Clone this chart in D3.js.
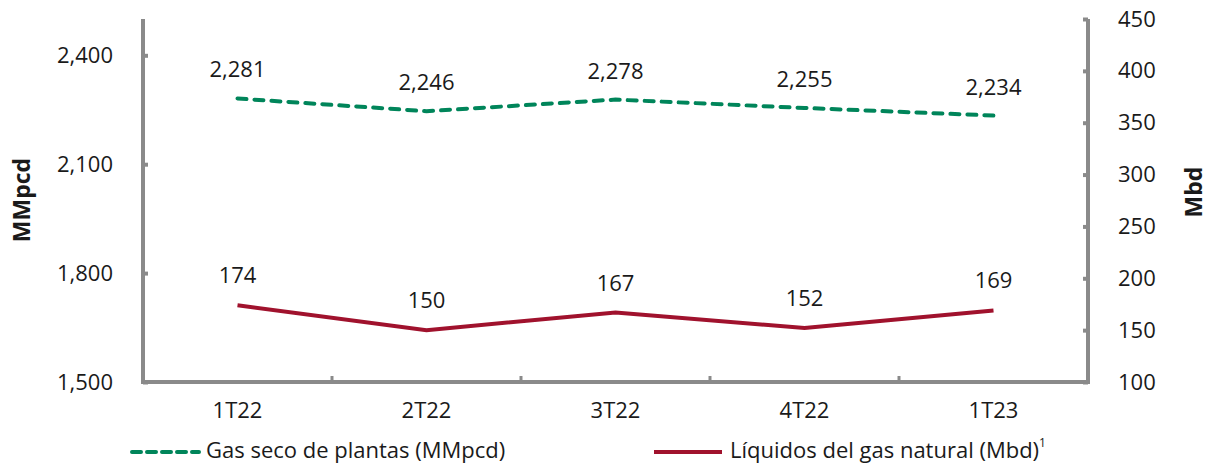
<!DOCTYPE html>
<html><head><meta charset="utf-8">
<script src="https://cdn.jsdelivr.net/npm/d3@7/dist/d3.min.js"></script>
<style>
body{margin:0;background:#fff;}
text{font-family:"Open Sans",sans-serif;fill:#1a1a1a;}
</style></head>
<body><svg id="c" width="1209" height="465"></svg>
<script>
const categories = ["1T22","2T22","3T22","4T22","1T23"];
const gasSeco = [2281, 2246, 2278, 2255, 2234];
const liquidos = [174, 150, 167, 152, 169];
const leftTicks = [1500, 1800, 2100, 2400];
const rightTicks = [100,150,200,250,300,350,400,450];
const seriesNames = ["Gas seco de plantas (MMpcd)", "Líquidos del gas natural (Mbd)"];

const svg = d3.select("#c");
const L = 143, R = 1088, T = 19, B = 382;
const gray = "#8a8a8a", green = "#00855A", red = "#A0122D";
const FONT = '"Open Sans",sans-serif';
const FS = "22px";

const x = d3.scaleBand().domain(categories).range([L, R]);
const yL = d3.scaleLinear().domain([1500, 2500]).range([B, T]);
const yR = d3.scaleLinear().domain([100, 450]).range([B, T]);

const gL = svg.append("g").attr("transform", `translate(${L},0)`)
  .call(d3.axisLeft(yL).tickValues(leftTicks).tickSize(-5).tickPadding(30).tickFormat(d3.format(",")));
const gR = svg.append("g").attr("transform", `translate(${R},0)`)
  .call(d3.axisRight(yR).tickValues(rightTicks).tickSize(-5).tickPadding(30).tickFormat(d3.format("d")));
const gB = svg.append("g").attr("transform", `translate(0,${B})`)
  .call(d3.axisBottom(x).tickSize(0).tickPadding(20));
[gL, gR, gB].forEach(g => {
  g.select(".domain").remove();
  g.selectAll("line").attr("stroke", gray).attr("stroke-width", 4);
  g.selectAll("text").style("font-size", FS).attr("fill", "#1a1a1a").style("font-family", FONT);
});
gL.selectAll("text").attr("text-anchor", "end");
gR.selectAll("text").attr("text-anchor", "start");

svg.append("line").attr("x1", L).attr("x2", L).attr("y1", T).attr("y2", B + 2).attr("stroke", gray).attr("stroke-width", 4);
svg.append("line").attr("x1", R).attr("x2", R).attr("y1", T).attr("y2", B + 2).attr("stroke", gray).attr("stroke-width", 4);
svg.append("line").attr("x1", L - 2).attr("x2", R + 2).attr("y1", B).attr("y2", B).attr("stroke", gray).attr("stroke-width", 4);
svg.append("g").selectAll("line").data(categories.slice(1)).join("line")
  .attr("x1", d => x(d)).attr("x2", d => x(d)).attr("y1", B).attr("y2", B - 6)
  .attr("stroke", gray).attr("stroke-width", 3);

const cx = d => x(d) + x.bandwidth() / 2;

const lineL = d3.line().x((d, i) => cx(categories[i])).y(d => yL(d));
const lineR = d3.line().x((d, i) => cx(categories[i])).y(d => yR(d));
svg.append("path").attr("d", lineL(gasSeco)).attr("fill", "none").attr("stroke", green)
  .attr("stroke-width", 4).attr("stroke-dasharray", "9,8").attr("stroke-linecap", "round");
svg.append("path").attr("d", lineR(liquidos)).attr("fill", "none").attr("stroke", red)
  .attr("stroke-width", 4);

svg.append("g").selectAll("text").data(gasSeco).join("text")
  .attr("x", (d, i) => cx(categories[i])).attr("y", d => yL(d) - 21)
  .attr("text-anchor", "middle").style("font-size", FS).text(d => d3.format(",")(d));
svg.append("g").selectAll("text").data(liquidos).join("text")
  .attr("x", (d, i) => cx(categories[i])).attr("y", d => yR(d) - 22)
  .attr("text-anchor", "middle").style("font-size", FS).text(d => d);

svg.append("text").attr("transform", "translate(30,200) rotate(-90)").attr("text-anchor", "middle")
  .style("font-size", "23px").style("font-weight", "bold").text("MMpcd");
svg.append("text").attr("transform", "translate(1202,192) rotate(-90)").attr("text-anchor", "middle")
  .style("font-size", "23px").style("font-weight", "bold").text("Mbd");

const ly = 452;
svg.append("line").attr("x1", 132).attr("x2", 199).attr("y1", ly).attr("y2", ly)
  .attr("stroke", green).attr("stroke-width", 4).attr("stroke-dasharray", "9,6").attr("stroke-linecap", "round");
svg.append("text").attr("x", 206).attr("y", ly + 6).style("font-size", FS).text(seriesNames[0]);
svg.append("line").attr("x1", 654).attr("x2", 722).attr("y1", ly).attr("y2", ly)
  .attr("stroke", red).attr("stroke-width", 4);
const t2 = svg.append("text").attr("x", 730).attr("y", ly + 6).style("font-size", FS).text(seriesNames[1]);
t2.append("tspan").attr("dy", -11).style("font-size", "12px").text("1");
</script></body></html>
